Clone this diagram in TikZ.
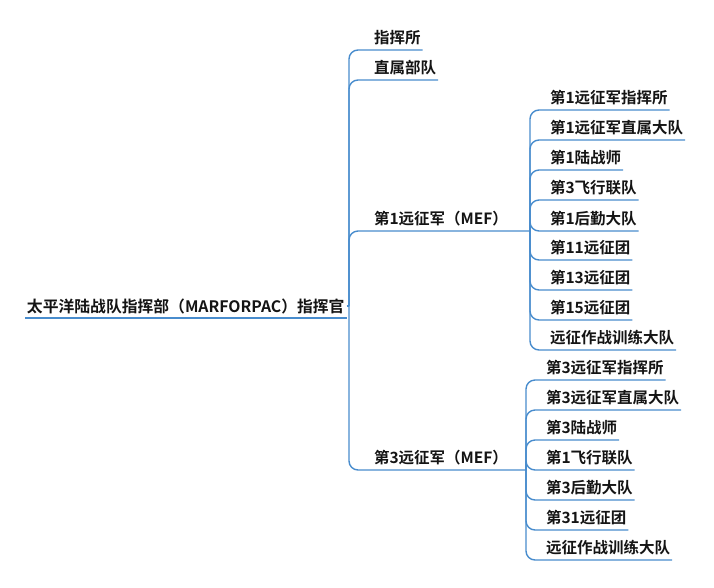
\documentclass[tikz,border=0pt]{standalone}
\usepackage{fontspec}
\setmainfont{Noto Sans CJK SC}[BoldFont={Noto Sans CJK SC Bold}]
\definecolor{lineblue}{RGB}{72,140,205}
\definecolor{txt}{RGB}{20,20,20}
\tikzset{
  lbl/.style={font=\fontsize{15.5}{17}\selectfont\bfseries, text=txt, inner xsep=2pt, inner ysep=0pt,
              minimum height=24pt, anchor=south west, outer sep=0pt},
  conn/.style={draw=lineblue, line width=1.4pt, rounded corners=9pt},
}
\begin{document}
\begin{tikzpicture}[x=1pt,y=-1pt]
\useasboundingbox (0,0) rectangle (714,587);
% root
\node[lbl, font=\fontsize{15.8}{17}\selectfont\bfseries] (root) at (25,318) {太平洋陆战队指挥部（MARFORPAC）指挥官};
\coordinate (jr) at (root.east -| 349,0);
% level 1
\node[lbl] (cp) at (372,50) {指挥所};
\node[lbl] (hq) at (372,80) {直属部队};
\node[lbl] (mef1) at (372,231) {第1远征军（MEF）};
\node[lbl] (mef3) at (372,470) {第3远征军（MEF）};
\coordinate (j1) at (530,231);
\coordinate (j3) at (526,470);
% MEF1 children
\node[lbl] (a1) at (548,110) {第1远征军指挥所};
\node[lbl] (a2) at (548,140) {第1远征军直属大队};
\node[lbl] (a3) at (548,170) {第1陆战师};
\node[lbl] (a4) at (548,200) {第3飞行联队};
\node[lbl] (a5) at (548,231) {第1后勤大队};
\node[lbl] (a6) at (548,260) {第11远征团};
\node[lbl] (a7) at (548,290) {第13远征团};
\node[lbl] (a8) at (548,320) {第15远征团};
\node[lbl] (a9) at (548,350) {远征作战训练大队};
% MEF3 children
\node[lbl] (b1) at (544,380) {第3远征军指挥所};
\node[lbl] (b2) at (544,410) {第3远征军直属大队};
\node[lbl] (b3) at (544,440) {第3陆战师};
\node[lbl] (b4) at (544,470) {第1飞行联队};
\node[lbl] (b5) at (544,500) {第3后勤大队};
\node[lbl] (b6) at (544,530) {第31远征团};
\node[lbl] (b7) at (544,560) {远征作战训练大队};
% connectors
\draw[conn] (root.south west) -- (root.south east);
\draw[conn] (root.east) -- (jr);
\draw[conn] (jr) |- (cp.south east);
\draw[conn] (jr) |- (hq.south east);
\draw[conn] (jr) |- (mef1.south east) -- (j1);
\draw[conn] (jr) |- (mef3.south east) -- (j3);
\foreach \n in {a1,a2,a3,a4,a5,a6,a7,a8,a9} \draw[conn] (j1) |- (\n.south east);
\foreach \n in {b1,b2,b3,b4,b5,b6,b7} \draw[conn] (j3) |- (\n.south east);
\end{tikzpicture}
\end{document}
